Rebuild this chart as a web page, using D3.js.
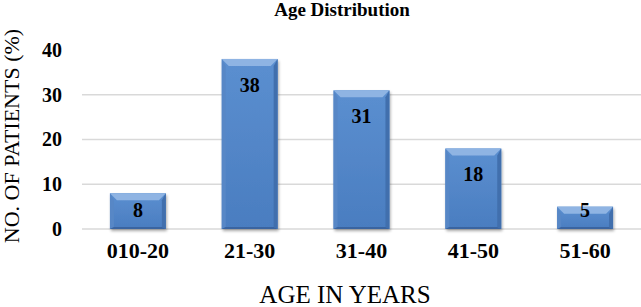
<!DOCTYPE html>
<html>
<head>
<meta charset="utf-8">
<script src="https://cdn.jsdelivr.net/npm/d3@7"></script>
<style>
body { margin: 0; background: #fff; }
svg { display: block; font-family: "Liberation Serif", "Times New Roman", serif; }
</style>
</head>
<body>
<svg id="svg"></svg>
<script>
var width = 641, height = 307;

var categories = ["010-20", "21-30", "31-40", "41-50", "51-60"];
var values = [8, 38, 31, 18, 5];
var yTicks = [0, 10, 20, 30, 40];

var svg = d3.select("#svg")
	.attr("width", width)
	.attr("height", height);

var x = d3.scaleBand()
	.domain(categories)
	.range([82, 641])
	.paddingInner(0.5)
	.paddingOuter(0.25);

var y = d3.scaleLinear()
	.domain([0, 40])
	.range([229, 50]);

var defs = svg.append("defs");
var grad = defs.append("linearGradient")
	.attr("id", "barGrad")
	.attr("x1", 0).attr("y1", 0).attr("x2", 0).attr("y2", 1);
grad.append("stop").attr("offset", "0%").attr("stop-color", "#5b8fd0");
grad.append("stop").attr("offset", "100%").attr("stop-color", "#4a7dc0");

var shadow = defs.append("filter").attr("id", "shadow")
	.attr("x", "-20%").attr("y", "-20%").attr("width", "140%").attr("height", "140%");
shadow.append("feGaussianBlur").attr("in", "SourceAlpha").attr("stdDeviation", 1.5);
shadow.append("feOffset").attr("dx", 1).attr("dy", 2).attr("result", "b");
shadow.append("feComponentTransfer").append("feFuncA").attr("type", "linear").attr("slope", 0.35);
var merge = shadow.append("feMerge");
merge.append("feMergeNode");
merge.append("feMergeNode").attr("in", "SourceGraphic");

// gridlines (no line at the top tick)
svg.append("g")
	.selectAll("line")
	.data(yTicks.filter(function(d) { return d < 40; }))
	.enter().append("line")
	.attr("x1", 82)
	.attr("x2", 641)
	.attr("y1", function(d) { return y(d); })
	.attr("y2", function(d) { return y(d); })
	.attr("stroke", "#d9d9d9")
	.attr("stroke-width", 1.5);

// y axis labels
var yAxis = d3.axisLeft(y).tickValues(yTicks).tickSize(0).tickPadding(0);
var ya = svg.append("g")
	.attr("transform", "translate(62,0)")
	.call(yAxis);
ya.select(".domain").remove();
ya.selectAll("text")
	.attr("font-family", "Liberation Serif, Times New Roman, serif")
	.attr("font-size", 20)
	.attr("font-weight", "bold")
	.attr("fill", "#000");

// x axis labels
var xAxis = d3.axisBottom(x).tickSize(0).tickPadding(0);
var xa = svg.append("g")
	.attr("transform", "translate(0,242)")
	.call(xAxis);
xa.select(".domain").remove();
xa.selectAll("text")
	.attr("font-family", "Liberation Serif, Times New Roman, serif")
	.attr("font-size", 22)
	.attr("font-weight", "bold")
	.attr("fill", "#000");

// bars
var bw = x.bandwidth(), bev = 7;
var bar = svg.append("g")
	.selectAll("g")
	.data(values)
	.enter().append("g")
	.attr("transform", function(d, i) { return "translate(" + x(categories[i]) + ",0)"; });

bar.append("rect")
	.attr("x", 0)
	.attr("y", function(d) { return y(d); })
	.attr("width", bw)
	.attr("height", function(d) { return y(0) - y(d); })
	.attr("fill", "url(#barGrad)")
	.attr("filter", "url(#shadow)");

// bevel: top light, sides slightly darker, bottom dark
bar.append("polygon")
	.attr("points", function(d) {
		var t = y(d);
		return [[0, t], [bw, t], [bw - bev, t + bev], [bev, t + bev]].join(" ");
	})
	.attr("fill", "#8fb4e3");
bar.append("polygon")
	.attr("points", function(d) {
		var t = y(d), b = y(0);
		return [[0, t], [bev - 3, t + bev], [bev - 3, b - 2], [0, b]].join(" ");
	})
	.attr("fill", "#5787c6");
bar.append("polygon")
	.attr("points", function(d) {
		var t = y(d), b = y(0);
		return [[bw, t], [bw - bev + 3, t + bev], [bw - bev + 3, b - 2], [bw, b]].join(" ");
	})
	.attr("fill", "#416fad");
bar.append("polygon")
	.attr("points", function(d) {
		var b = y(0);
		return [[0, b], [bev - 3, b - 2], [bw - bev + 3, b - 2], [bw, b]].join(" ");
	})
	.attr("fill", "#3a64a0");

// value labels
bar.append("text")
	.attr("x", bw / 2)
	.attr("y", function(d) { return Math.min(y(d) + 26, y(0) - 19); })
	.attr("dy", "0.35em")
	.attr("text-anchor", "middle")
	.attr("font-size", 20)
	.attr("font-weight", "bold")
	.text(function(d) { return d; });

// titles
svg.append("text")
	.attr("x", 342)
	.attr("y", 16)
	.attr("text-anchor", "middle")
	.attr("font-size", 19)
	.attr("font-weight", "bold")
	.text("Age Distribution");

svg.append("text")
	.attr("x", 345)
	.attr("y", 303)
	.attr("text-anchor", "middle")
	.attr("font-size", 25)
	.text("AGE IN YEARS");

svg.append("text")
	.attr("transform", "translate(19,136) rotate(-90)")
	.attr("text-anchor", "middle")
	.attr("font-size", 22)
	.text("NO. OF PATIENTS (%)");
</script>
</body>
</html>
